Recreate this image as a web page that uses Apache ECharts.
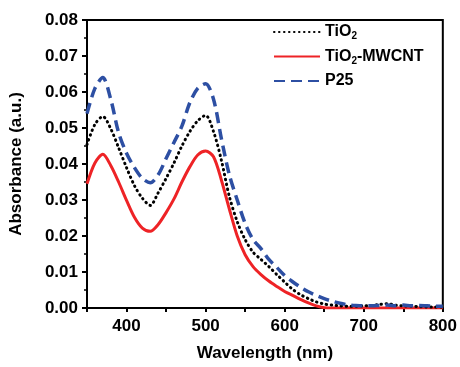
<!DOCTYPE html>
<html>
<head>
<meta charset="utf-8">
<script src="https://cdn.jsdelivr.net/npm/echarts@6/dist/echarts.min.js"></script>
<style>
  html, body {margin: 0; padding: 0; background: #fff;}
  #chart {width: 460px; height: 367px;}
</style>
</head>
<body>
<div id="chart"></div>
<script>
// wavelength grid (nm)
const wavelengths = [350, 360, 370, 380, 390, 400, 410, 420, 430, 440, 450, 460, 470, 480, 490, 500,
  510, 520, 530, 540, 550, 560, 570, 580, 590, 600, 610, 620, 630, 640, 650, 660, 670, 680, 690, 700,
  710, 720, 730, 740, 750, 760, 770, 780, 790, 800];

const tio2 = [0.0454, 0.051, 0.0532, 0.0498, 0.0445, 0.039, 0.034, 0.0305, 0.0285, 0.032, 0.036, 0.0403,
  0.045, 0.049, 0.052, 0.0535, 0.049, 0.041, 0.031, 0.024, 0.019, 0.0155, 0.0135, 0.0115, 0.0093, 0.0072,
  0.0052, 0.0037, 0.0026, 0.0017, 0.0011, 0.0008, 0.0006, 0.0005, 0.0005, 0.0006, 0.0007, 0.001, 0.0012,
  0.0008, 0.0006, 0.0005, 0.0004, 0.0003, 0.0003, 0.0003];

const tio2Mwcnt = [0.0345, 0.0403, 0.0427, 0.0396, 0.035, 0.0299, 0.0252, 0.0222, 0.0213, 0.0232, 0.0265,
  0.0303, 0.035, 0.0392, 0.0425, 0.0436, 0.042, 0.0355, 0.0275, 0.020, 0.0148, 0.0115, 0.0093, 0.0075,
  0.006, 0.0046, 0.0035, 0.0024, 0.0014, 0.0006, 0.0001, 0, 0, 0, 0, 0, 0, 0, 0, 0, 0, 0, 0, 0, 0, 0];

const p25 = [0.054, 0.061, 0.064, 0.058, 0.0487, 0.043, 0.039, 0.036, 0.0348, 0.037, 0.0415, 0.046,
  0.0505, 0.057, 0.061, 0.0623, 0.058, 0.047, 0.037, 0.030, 0.0235, 0.019, 0.0165, 0.0135, 0.0113, 0.009,
  0.0073, 0.0058, 0.0045, 0.0035, 0.0026, 0.0019, 0.0013, 0.0009, 0.0007, 0.0006, 0.0006, 0.0007, 0.0008,
  0.0006, 0.0008, 0.0006, 0.0007, 0.0006, 0.0005, 0.0005];

const pairs = ys => wavelengths.map((x, i) => [x, ys[i]]);

const font = 'Liberation Sans, Arial, sans-serif';
const chart = echarts.init(document.getElementById('chart'));

const axisCommon = {
    axisLine: {show: true, onZero: false, lineStyle: {color: '#000', width: 2}},
    axisTick: {show: true, inside: false, length: 5, lineStyle: {color: '#000', width: 2}},
    splitLine: {show: false},
    nameLocation: 'middle',
    nameTextStyle: {fontFamily: font, fontWeight: 'bold', fontSize: 17, color: '#000'},
};

chart.setOption({
    animation: false,
    textStyle: {fontFamily: font},
    grid: {left: 83, right: 17, top: 20, bottom: 54, show: true, borderColor: '#000', borderWidth: 2},
    legend: {
        orient: 'vertical',
        left: 268,
        top: 19,
        itemWidth: 46,
        itemHeight: 14,
        itemGap: 7,
        itemStyle: {opacity: 0},
        textStyle: {
            fontFamily: font, fontWeight: 'bold', fontSize: 16, color: '#000',
            rich: {
                s: {fontFamily: font, fontWeight: 'bold', fontSize: 10, color: '#000', padding: [9, 0, 0, 0]}
            }
        },
        formatter(name) {
            return name.replace('TiO2', 'TiO{s|2}');
        }
    },
    xAxis: {
        ...axisCommon,
        type: 'value',
        min: 350,
        max: 800,
        interval: 50,
        name: 'Wavelength (nm)',
        nameGap: 37,
        axisTick: {show: true, inside: false, length: 4, lineStyle: {color: '#000', width: 2}},
        axisLabel: {
            fontFamily: font, fontWeight: 'bold', fontSize: 17, color: '#000', margin: 10,
            formatter: v => (v % 100 === 0 ? v : '')
        },
    },
    yAxis: {
        ...axisCommon,
        type: 'value',
        min: 0,
        max: 0.08,
        interval: 0.01,
        name: 'Absorbance (a.u.)',
        nameGap: 62,
        minorTick: {show: true, splitNumber: 2, length: 3, lineStyle: {color: '#000', width: 1.5}},
        axisLabel: {
            fontFamily: font, fontWeight: 'bold', fontSize: 17, color: '#000', margin: 9,
            formatter: v => v.toFixed(2)
        },
    },
    series: [
        {
            name: 'TiO2',
            type: 'line',
            data: pairs(tio2),
            symbol: 'none',
            smooth: 0.3,
            color: '#000',
            lineStyle: {color: '#000', width: 3, type: [0.5, 4.5], cap: 'round'},
            z: 3
        },
        {
            name: 'TiO2-MWCNT',
            type: 'line',
            data: pairs(tio2Mwcnt),
            symbol: 'none',
            smooth: 0.3,
            color: '#ee2326',
            lineStyle: {color: '#ee2326', width: 3},
            z: 2
        },
        {
            name: 'P25',
            type: 'line',
            data: pairs(p25),
            symbol: 'none',
            smooth: 0.3,
            color: '#2d4fa3',
            lineStyle: {color: '#2d4fa3', width: 3.5, type: [11, 6]},
            z: 4
        }
    ]
});
</script>
</body>
</html>
